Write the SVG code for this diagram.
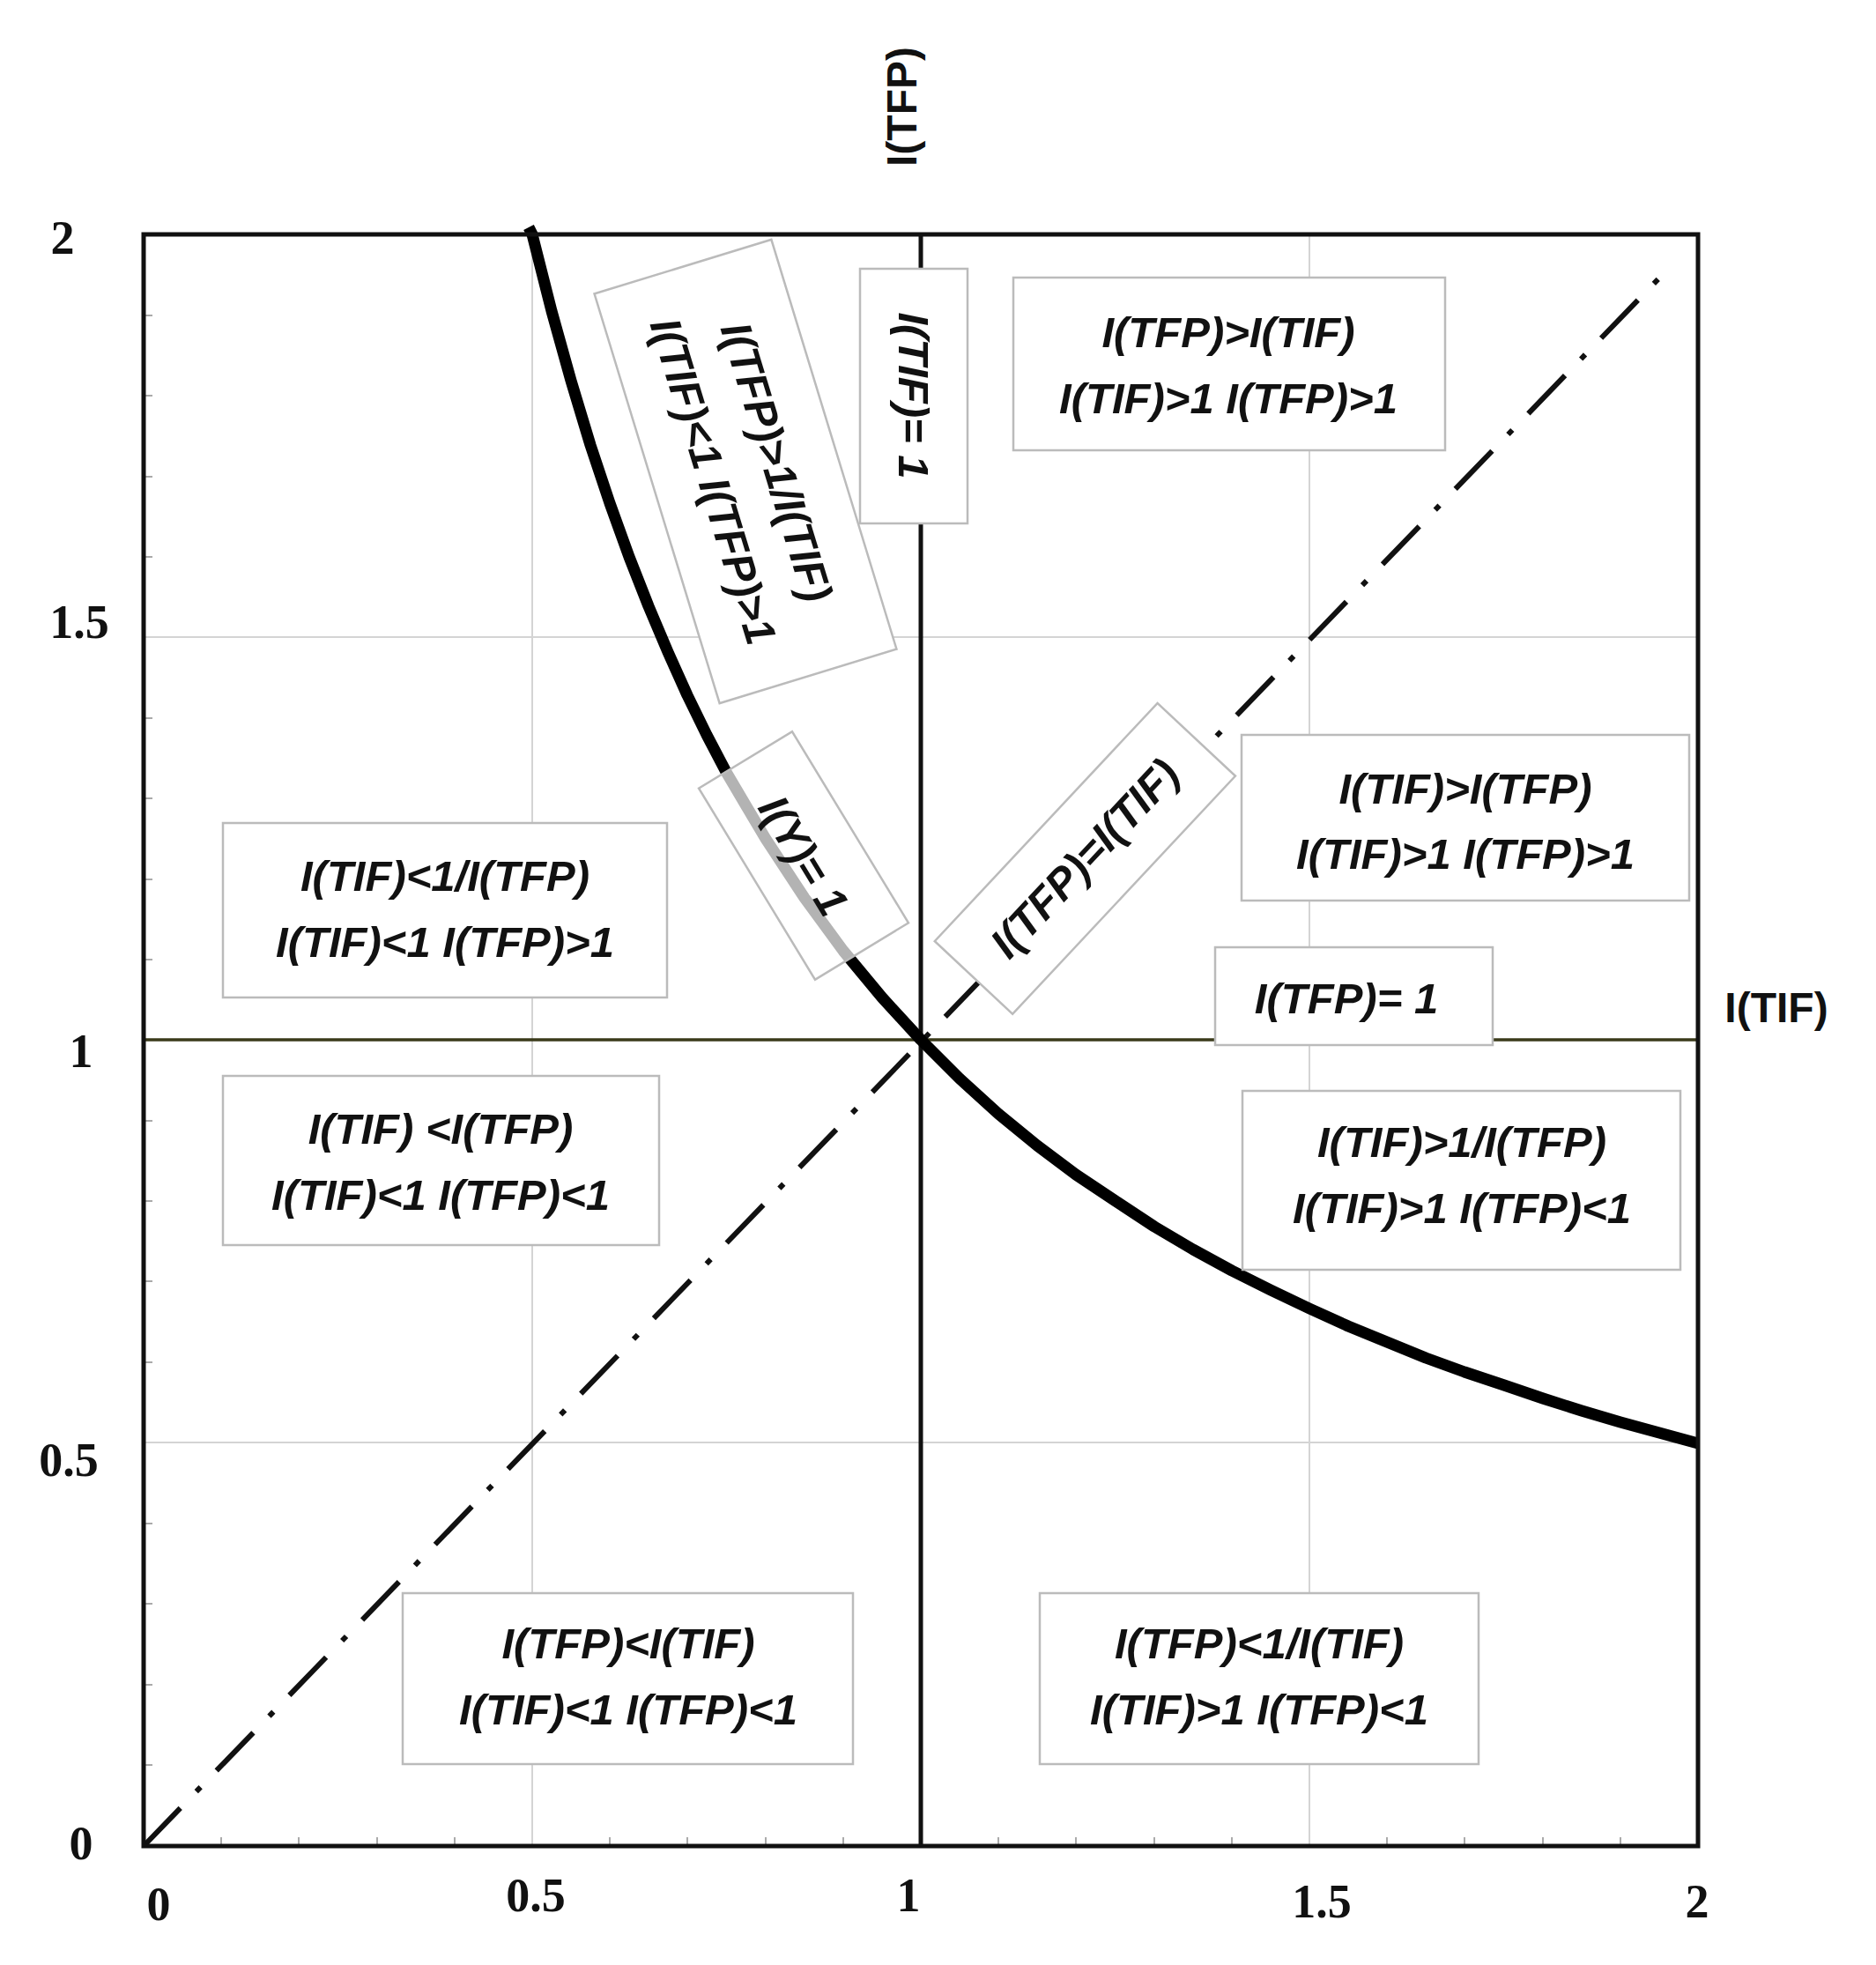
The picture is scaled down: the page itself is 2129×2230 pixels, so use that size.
<svg xmlns="http://www.w3.org/2000/svg" width="2129" height="2230" viewBox="0 0 2129 2230">
<style>
.lab{font-family:"Liberation Sans",Arial,sans-serif;font-style:italic;font-weight:bold;font-size:49px;fill:#111;text-anchor:middle}
.box{fill:#fff;stroke:#bbb;stroke-width:2.5}
.tick{font-family:"Liberation Serif",serif;font-weight:bold;font-size:54px;fill:#111;text-anchor:middle}
.ax{font-family:"Liberation Sans",Arial,sans-serif;font-weight:bold;font-size:48px;fill:#111;text-anchor:middle}
.grid{stroke:#d4d4d4;stroke-width:2}
.mt{stroke:#aaa;stroke-width:2}
</style>
<rect width="2129" height="2230" fill="#fff"/>
<g id="grid">
<line class="grid" x1="604" y1="266" x2="604" y2="2095"/>
<line class="grid" x1="1486" y1="266" x2="1486" y2="2095"/>
<line class="grid" x1="163" y1="723" x2="1927" y2="723"/>
<line class="grid" x1="163" y1="1637" x2="1927" y2="1637"/>
<path class="mt" d="M163 358h10M163 449h10M163 541h10M163 632h10M163 815h10M163 906h10M163 998h10M163 1089h10M163 1272h10M163 1363h10M163 1454h10M163 1546h10M163 1729h10M163 1820h10M163 1912h10M163 2003h10M251 2095v-10M339 2095v-10M428 2095v-10M516 2095v-10M692 2095v-10M780 2095v-10M869 2095v-10M957 2095v-10M1133 2095v-10M1221 2095v-10M1310 2095v-10M1398 2095v-10M1574 2095v-10M1662 2095v-10M1751 2095v-10M1839 2095v-10"/>
</g>
<g id="connectors">
<line x1="163" y1="1180" x2="1927" y2="1180" stroke="#3a3a1a" stroke-width="3.5"/>
<line x1="1045" y1="266" x2="1045" y2="2095" stroke="#111" stroke-width="5"/>
<line x1="163" y1="2095" x2="1899" y2="299" stroke="#111" stroke-width="6" stroke-dasharray="60 26 7 26"/>
<polyline fill="none" stroke="#000" stroke-width="13" stroke-linejoin="round" points="600,258 604,266 626,353 648,432 670,505 692,571 714,632 736,688 758,740 780,789 802,834 824,876 847,915 869,952 913,1019 957,1079 1001,1132 1045,1180 1089,1224 1133,1264 1177,1300 1221,1333 1266,1363 1310,1392 1354,1418 1398,1442 1442,1464 1486,1485 1530,1505 1574,1523 1618,1541 1662,1557 1707,1572 1751,1587 1795,1601 1839,1614 1883,1626 1927,1638"/>
</g>
<g id="frame"><rect x="163" y="266" width="1764" height="1829" fill="none" stroke="#111" stroke-width="5"/></g>
<g id="n1"><rect class="box" x="1150" y="315" width="490" height="196"/><text class="lab" x="1394" y="394">I(TFP)&gt;I(TIF)</text><text class="lab" x="1394" y="469">I(TIF)&gt;1 I(TFP)&gt;1</text></g>
<g id="n2"><rect class="box" x="1409" y="834" width="508" height="188"/><text class="lab" x="1663" y="912">I(TIF)&gt;I(TFP)</text><text class="lab" x="1663" y="986">I(TIF)&gt;1 I(TFP)&gt;1</text></g>
<g id="n3"><rect class="box" x="1379" y="1075" width="315" height="111"/><text class="lab" x="1528" y="1150">I(TFP)= 1</text></g>
<g id="n4"><rect class="box" x="1410" y="1238" width="497" height="203"/><text class="lab" x="1659" y="1313">I(TIF)&gt;1/I(TFP)</text><text class="lab" x="1659" y="1388">I(TIF)&gt;1 I(TFP)&lt;1</text></g>
<g id="n5"><rect class="box" x="1180" y="1808" width="498" height="194"/><text class="lab" x="1429" y="1882">I(TFP)&lt;1/I(TIF)</text><text class="lab" x="1429" y="1957">I(TIF)&gt;1 I(TFP)&lt;1</text></g>
<g id="n6"><rect class="box" x="457" y="1808" width="511" height="194"/><text class="lab" x="713" y="1882">I(TFP)&lt;I(TIF)</text><text class="lab" x="713" y="1957">I(TIF)&lt;1 I(TFP)&lt;1</text></g>
<g id="n7"><rect class="box" x="253" y="1221" width="495" height="192"/><text class="lab" x="500" y="1298">I(TIF) &lt;I(TFP)</text><text class="lab" x="500" y="1373">I(TIF)&lt;1 I(TFP)&lt;1</text></g>
<g id="n8"><rect class="box" x="253" y="934" width="504" height="198"/><text class="lab" x="505" y="1011">I(TIF)&lt;1/I(TFP)</text><text class="lab" x="505" y="1086">I(TIF)&lt;1 I(TFP)&gt;1</text></g>
<g id="n9"><rect class="box" x="976" y="305" width="122" height="289"/><text class="lab" transform="translate(1037,449) rotate(90)" x="0" y="17">I(TIF)= 1</text></g>
<g id="n10" transform="translate(846,535) rotate(73)"><rect class="box" x="-243" y="-105" width="486" height="210"/><text class="lab" x="0" y="-20">I(TFP)&gt;1/I(TIF)</text><text class="lab" x="0" y="55">I(TIF)&lt;1 I(TFP)&gt;1</text></g>
<g id="n11" transform="translate(912,971) rotate(58.7)"><rect x="-127" y="-62" width="254" height="124" fill="#fff" fill-opacity="0.7" stroke="#bbb" stroke-width="2.5"/><text class="lab" x="0" y="17">I(Y)= 1</text></g>
<g id="n12" transform="translate(1231,974) rotate(-46.9)"><rect class="box" x="-185" y="-60" width="370" height="121"/><text class="lab" x="0" y="17">I(TFP)=I(TIF)</text></g>
<g id="axes">
<text class="ax" transform="translate(1040,121) rotate(-90)">I(TFP)</text>
<text class="ax" x="2016" y="1160">I(TIF)</text>
<text class="tick" x="71" y="288">2</text>
<text class="tick" x="90" y="724">1.5</text>
<text class="tick" x="92" y="1211">1</text>
<text class="tick" x="78" y="1675">0.5</text>
<text class="tick" x="92" y="2110">0</text>
<text class="tick" x="180" y="2179">0</text>
<text class="tick" x="608" y="2169">0.5</text>
<text class="tick" x="1031" y="2169">1</text>
<text class="tick" x="1500" y="2176">1.5</text>
<text class="tick" x="1926" y="2176">2</text>
</g>
</svg>
